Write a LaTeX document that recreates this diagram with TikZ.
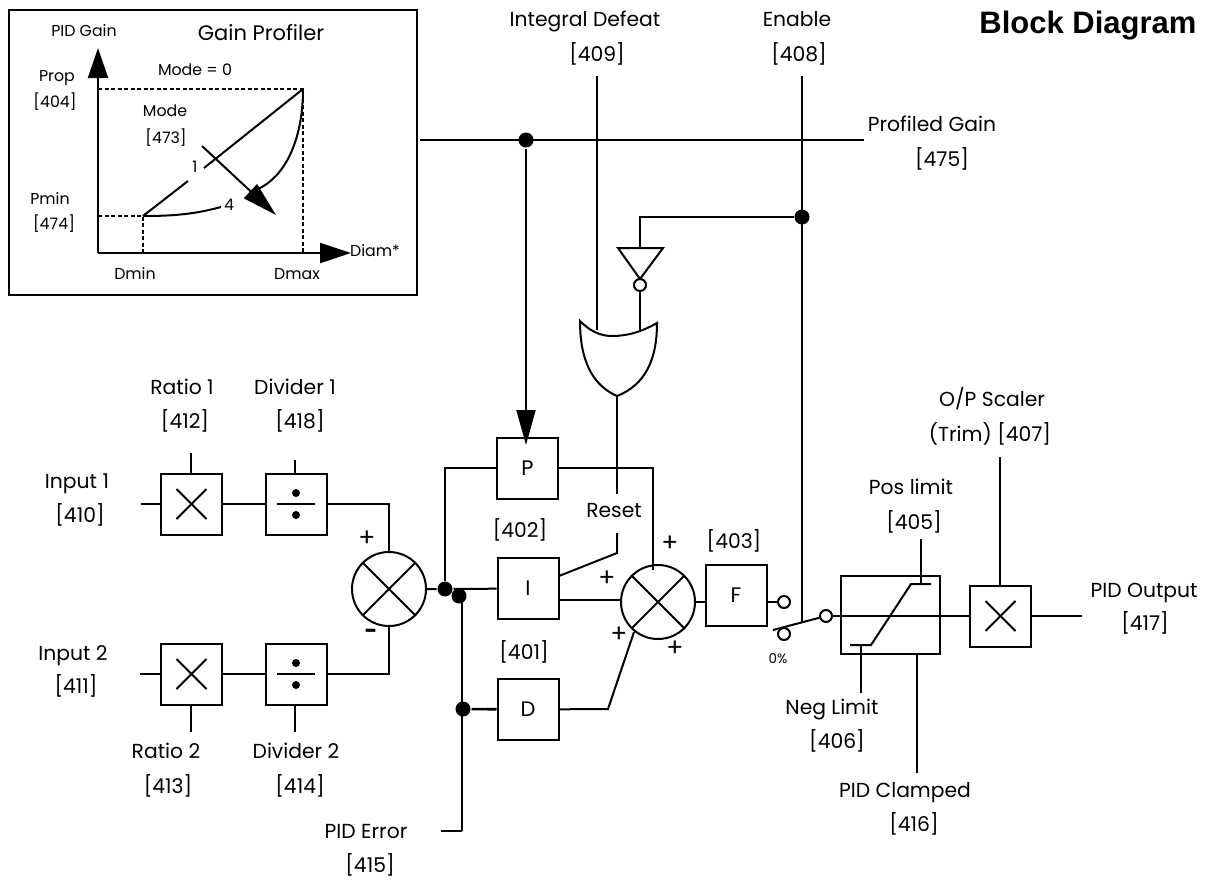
\documentclass[tikz,border=0pt]{standalone}
\usepackage{fontspec}
\setmainfont{Poppins}
\newfontfamily\titlefont{Liberation Sans}
\usetikzlibrary{arrows.meta,positioning,calc}
\tikzset{
  lbl/.style={inner sep=0pt,text height=15pt,text depth=2pt,font=\fontsize{20.3}{24}\selectfont},
  lblsmall/.style={inner sep=0pt,text height=11pt,text depth=2pt,font=\fontsize{15.8}{19}\selectfont},
  block/.style={draw,minimum size=61pt,inner sep=0pt,font=\fontsize{21}{25}\selectfont},
  summer/.style={draw,circle,minimum size=74pt,inner sep=0pt},
  joint/.style={circle,fill=black,minimum size=15pt,inner sep=0pt},
  contact/.style={draw,circle,fill=white,minimum size=12pt,inner sep=0pt},
  dashwire/.style={dash pattern=on 4pt off 2.5pt},
  bighead/.style={-{Triangle[length=35pt,width=19pt]}}
}
\begin{document}
\begin{tikzpicture}[x=1pt,y=-1pt,line width=2pt,>=Stealth]
  \useasboundingbox (0,0) rectangle (1218,879);
  % gain profiler inset
  \node[draw,minimum width=408pt,minimum height=285pt,inner sep=0pt] (inset) at (213,152.5) {};
  \coordinate (orig) at (98,253);
  \coordinate (ytop) at (98,48);
  \coordinate (xtip) at (351,253);
  \coordinate (pmax) at (303,89);
  \coordinate (pmin) at (143,216);
  \draw[-{Triangle[length=30pt,width=20pt]}] (orig) -- (ytop);
  \draw[-{Triangle[length=31pt,width=20pt]}] (orig) -- (xtip);
  \draw[dashwire] (pmax -| orig) -- (pmax) -- (pmax |- orig);
  \draw[dashwire] (pmin -| orig) -- (pmin) -- (pmin |- orig);
  \foreach \n/\x/\y/\t in {pidgain/84/32/PID Gain,prop/57/77/Prop,propno/55/103/{[404]},modeno/195/71/{Mode = 0},
      mode/165/112/Mode,modenum/166/139/{[473]},one/195/168/1,four/229/206/4,pmintxt/50/200/Pmin,pminno/54/225/{[474]},
      dmin/135/275/Dmin,dmax/297/275/Dmax,diam/375/252/Diam*}
    \node[lblsmall] (\n) at (\x,\y) {\t};
  \node[lbl,font=\fontsize{21}{25}\selectfont] (profiler) at (261,34) {Gain Profiler};
  \draw (pmin) -- (188,181) (204,168) -- (pmax);
  \draw (pmin) .. controls (175,216) and (195,214) .. (221,207);
  \draw (pmax) .. controls (303,135) and (288,175) .. (258,189);
  \draw[bighead] (202,146) -- (276,215);
  % text labels
  \foreach \n/\x/\y/\t in {defeat/585/20/Integral Defeat,defeatno/597/55/{[409]},enable/797/20/Enable,enableno/799/55/{[408]},
      profiled/932/125/Profiled Gain,profiledno/942/160/{[475]},ratioa/182/388/Ratio 1,ratioano/185/422/{[412]},
      dividera/295/388/Divider 1,divideranum/300/422/{[418]},inputa/77/482/Input 1,inputano/80/516/{[410]},
      inputb/73/654/Input 2,inputbno/76/687/{[411]},ratiob/166/752/Ratio 2,ratiobno/168/787/{[413]},
      dividerb/296/752/Divider 2,dividerbno/300/787/{[414]},piderr/366/832/PID Error,piderrno/370/866/{[415]},
      ino/520/531/{[402]},dno/524/653/{[401]},fno/734/542/{[403]},reset/614/511/Reset,
      poslim/911/488/Pos limit,poslimno/914/523/{[405]},scaler/992/400/{O/P Scaler},trim/990/435/{(Trim) [407]},
      pidout/1144/591/PID Output,pidoutno/1145/624/{[417]},neglim/832/708/Neg Limit,neglimno/837/742/{[406]},
      clamped/905/791/PID Clamped,clampedno/914/825/{[416]}}
    \node[lbl] (\n) at (\x,\y) {\t};
  \node[lblsmall,font=\fontsize{13.5}{16}\selectfont] (zero) at (778,659) {0\%};
  \node[inner sep=0pt,font=\titlefont\bfseries\fontsize{31}{35}\selectfont] (title) at (1088,26) {Block Diagram};
  \foreach \n/\x/\y/\t in {plusa/367/540/+,plusb/670/545/+,plusc/607/580/+,plusd/619/636/+,pluse/675/650/+}
    \node[lbl,font=\fontsize{25}{28}\selectfont] (\n) at (\x,\y) {\t};
  \node[lbl,font=\bfseries\fontsize{22}{26}\selectfont] (minusa) at (371,632) {-};
  % blocks
  \node[block] (mula) at (191.5,504) {};
  \node[block] (diva) at (296,504) {};
  \node[block] (mulb) at (191.5,674) {};
  \node[block] (divb) at (296,674) {};
  \node[block] (pblock) at (527.5,468) {P};
  \node[block] (iblock) at (528,588.5) {I};
  \node[block] (dblock) at (528,709.5) {D};
  \node[block] (fblock) at (736,595.5) {F};
  \node[block,minimum width=99pt,minimum height=78pt] (limiter) at (890.5,615) {};
  \node[block] (mulc) at (1000.5,616) {};
  \node[summer] (suma) at (389,589) {};
  \node[summer] (sumb) at (658,602) {};
  \foreach \n in {mula,mulb,mulc} \draw (\n) ++(-15,-15) -- ++(30,30) ++(-30,0) -- ++(30,-30);
  \foreach \n in {diva,divb} {
    \draw (\n) ++(-19,0) -- ++(38,0);
    \fill (\n) ++(0,-11) circle (4);
    \fill (\n) ++(0,11) circle (4);
  }
  \foreach \n in {suma,sumb} \draw (\n.45) -- (\n.225) (\n.135) -- (\n.315);
  % joints and free ends
  \node[joint] (jerr) at (445,589) {};
  \node[joint] (jdiff) at (459,596) {};
  \node[joint] (jd) at (463,709) {};
  \node[joint] (jgain) at (526,140) {};
  \node[joint] (jen) at (802,217) {};
  \node[contact] (conf) at (784,602) {};
  \node[contact] (conz) at (784,634) {};
  \node[contact] (pole) at (826,616) {};
  \coordinate (ina) at (141,504);
  \coordinate (inb) at (140,674);
  \coordinate (tra) at (191,453);
  \coordinate (tda) at (295,460);
  \coordinate (trb) at (191,732);
  \coordinate (tdb) at (295,732);
  % input side
  \draw (ina) -- (mula);
  \draw (inb) -- (mulb);
  \draw (tra) -- (tra |- mula.north);
  \draw (tda) -- (tda |- diva.north);
  \draw (trb) -- (trb |- mulb.south);
  \draw (tdb) -- (tdb |- divb.south);
  \draw (mula) -- (diva);
  \draw (mulb) -- (divb);
  \draw (diva) -| (suma);
  \draw (divb) -| (suma);
  % pid paths
  \draw (suma) -- (jerr) -- (iblock);
  \draw (jerr) |- (pblock);
  \coordinate (errbot) at (462,831);
  \coordinate (errend) at (441,831);
  \draw[line width=1.2pt] (462,596) -- (errbot);
  \draw (errbot) -- (errend);
  \draw[line width=2.6pt] (jd) -- (dblock);
  \draw (pblock) -| (653,570);
  \coordinate (imid) at (559,600);
  \draw (imid) -- (imid -| sumb.west);
  \coordinate (dmid) at (608,709);
  \coordinate (dend) at (634,632);
  \draw (dblock) -- (dmid) -- (dend);
  \draw (sumb) -- (sumb -| fblock.west);
  \draw (conf) -- (conf -| fblock.east);
  % gain and enable
  \coordinate (gainleft) at (420,140);
  \coordinate (gainend) at (864,140);
  \coordinate (ptip) at (526,445);
  \draw[line width=2.4pt] (gainleft) -- (gainend);
  \draw[bighead] (jgain) -- (ptip);
  \coordinate (deftop) at (597,76);
  \coordinate (defend) at (597,330);
  \draw (deftop) -- (defend);
  \coordinate (entop) at (802,76);
  \coordinate (enbot) at (802,622);
  \draw (entop) -- (enbot);
  % inverter and or gate
  \coordinate (invin) at (640,248);
  \node[draw,circle,minimum size=12pt,inner sep=0pt] (bubble) at (640,285) {};
  \draw (618,248) -- (663,248) -- (640,279) -- cycle;
  \draw (jen) -| (invin);
  \coordinate (orinb) at (640,332);
  \draw (bubble) -- (orinb);
  \coordinate (orout) at (617,396);
  \draw (580,321) .. controls (590,331) and (600,336) .. (612,336) .. controls (630,336) and (645,330) .. (657,323)
        .. controls (657,360) and (645,385) .. (orout) .. controls (592,385) and (580,360) .. cycle;
  \coordinate (rsta) at (617,494);
  \coordinate (rstb) at (617,533);
  \coordinate (rstc) at (617,553);
  \coordinate (rstd) at (559,576);
  \draw (orout) -- (rsta);
  \draw (rstb) -- (rstc) -- (rstd);
  % output side
  \coordinate (armend) at (773,630);
  \draw (armend) -- (pole);
  \draw (pole) -- (mulc);
  \coordinate (outend) at (1082,616);
  \draw (mulc) -- (outend);
  \draw (850,645) -- (871,645) -- (911,584) -- (931,584);
  \coordinate (postop) at (921,539);
  \draw (postop) -- (921,584);
  \coordinate (negend) at (861,693);
  \draw (861,645) -- (negend);
  \coordinate (clampend) at (917,773);
  \draw (clampend) -- (clampend |- limiter.south);
  \coordinate (scaletop) at (1000,457);
  \draw (scaletop) -- (scaletop |- mulc.north);
\end{tikzpicture}
\end{document}
